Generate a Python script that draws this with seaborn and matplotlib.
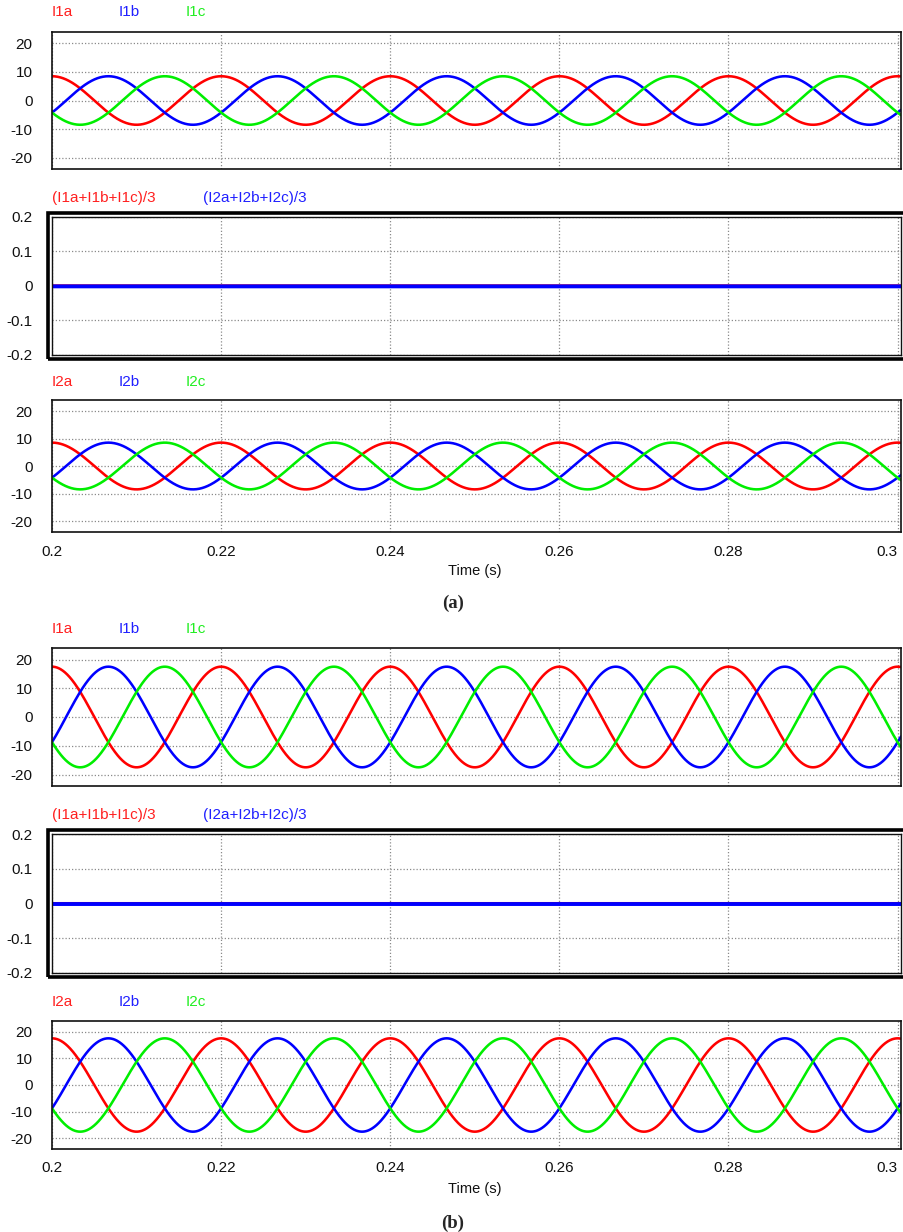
import numpy as np
import pandas as pd
import matplotlib
matplotlib.use("Agg")
import matplotlib.pyplot as plt
import seaborn as sns
from matplotlib.patches import Rectangle

# ---------------- data ----------------
time_start, time_end = 0.2, 0.3
frequency_hz = 50.0                       # period 0.02 s
amplitude_case_a = 8.5                    # peak current, case (a)
amplitude_case_b = 17.5                   # peak current, case (b)
phase_names_1 = ["I1a", "I1b", "I1c"]
phase_names_2 = ["I2a", "I2b", "I2c"]
phase_angles_deg = [0.0, -120.0, 120.0]   # a peaks at 0.20, b at 0.2067, c at 0.2133
zero_seq_names = ["(I1a+I1b+I1c)/3", "(I2a+I2b+I2c)/3"]
zero_seq_values = [0.0, 0.0]
x_ticks = [0.2, 0.22, 0.24, 0.26, 0.28, 0.3]
x_tick_labels = ["0.2", "0.22", "0.24", "0.26", "0.28", "0.3"]
current_ticks = [-20, -10, 0, 10, 20]
current_tick_labels = ["-20", "-10", "0", "10", "20"]
zero_ticks = [-0.2, -0.1, 0.0, 0.1, 0.2]
zero_tick_labels = ["-0.2", "-0.1", "0", "0.1", "0.2"]
case_labels = ["(a)", "(b)"]

phase_colors = ["#ff0000", "#0000ff", "#00ee00"]
label_colors = ["#ff2020", "#2020ff", "#22ee22"]

sns.set_style("white")
plt.rcParams["font.family"] = ["Liberation Sans", "DejaVu Sans"]

W, H = 904, 1232
fig = plt.figure(figsize=(W / 100, H / 100), dpi=100)

LEFT, RIGHT = 52, 901
x_max = 0.3004
t = np.linspace(time_start, x_max, 1500)
FS = 11


def make_ax(top, bottom):
    return fig.add_axes([LEFT / W, 1 - bottom / H, (RIGHT - LEFT) / W, (bottom - top) / H])


def style_ax(ax, yticks, ylabels, ylim, show_x):
    ax.set_xlim(time_start, x_max)
    ax.set_ylim(*ylim)
    ax.set_xticks(x_ticks)
    ax.set_yticks(yticks)
    ax.set_yticklabels(ylabels)
    if show_x:
        ax.set_xticklabels(x_tick_labels)
        ax.get_xticklabels()[-1].set_ha("right")
    else:
        ax.set_xticklabels([])
    ax.tick_params(axis="y", length=0, pad=14, labelsize=FS, colors="#111111")
    ax.tick_params(axis="x", length=0, pad=9, labelsize=FS, colors="#111111")
    ax.grid(True, color="#8a8a8a", linestyle=(0, (1, 1.6)), linewidth=0.9)
    ax.set_axisbelow(True)
    for s in ax.spines.values():
        s.set_color("#111111")
        s.set_linewidth(1.2)
    ax.set_xlabel("")
    ax.set_ylabel("")


def phase_panel(ax, names, amp, show_x):
    rows = []
    for name, ang in zip(names, phase_angles_deg):
        y = amp * np.cos(2 * np.pi * frequency_hz * (t - time_start) + np.deg2rad(ang))
        rows.append(pd.DataFrame({"t": t, "i": y, "phase": name}))
    df = pd.concat(rows, ignore_index=True)
    sns.lineplot(data=df, x="t", y="i", hue="phase", palette=dict(zip(names, phase_colors)),
                 estimator=None, linewidth=1.85, legend=False, ax=ax)
    style_ax(ax, current_ticks, current_tick_labels, (-24, 24), show_x)


def zero_panel(ax):
    df = pd.DataFrame({"t": np.concatenate([t, t]),
                       "i": np.concatenate([np.full_like(t, zero_seq_values[0]),
                                            np.full_like(t, zero_seq_values[1])]),
                       "s": [zero_seq_names[0]] * len(t) + [zero_seq_names[1]] * len(t)})
    sns.lineplot(data=df[df.s == zero_seq_names[0]], x="t", y="i", color="#ff0000",
                 estimator=None, linewidth=2.2, legend=False, ax=ax)
    df2 = df[df.s == zero_seq_names[1]].copy()
    df2["i"] = df2["i"] - 0.0015
    sns.lineplot(data=df2, x="t", y="i", color="#0000ff",
                 estimator=None, linewidth=2.8, legend=False, ax=ax)
    style_ax(ax, zero_ticks, zero_tick_labels, (-0.2, 0.2), False)
    for s in ax.spines.values():
        s.set_linewidth(1.0)
    bb = ax.get_position()
    dx = 4.0 / (bb.width * W)
    dy = 4.0 / (bb.height * H)
    ax.add_patch(Rectangle((-dx, -dy), 1 + 2 * dx, 1 + 2 * dy, transform=ax.transAxes,
                           fill=False, edgecolor="black", linewidth=2.6, clip_on=False))


def labels(y_px, texts, xs_px):
    for txt, xp, c in zip(texts, xs_px, label_colors):
        fig.text(xp / W, 1 - y_px / H, txt, color=c, fontsize=FS, ha="left", va="center")


layout = [
    dict(panels=[(32, 169), (216.7, 355), (400, 532)], labels=[12, 198, 382],
         amp=amplitude_case_a, time_y=571, case_y=603),
    dict(panels=[(648, 786), (834, 973), (1021, 1149)], labels=[629, 815, 1002],
         amp=amplitude_case_b, time_y=1189, case_y=1223),
]

for k, g in enumerate(layout):
    (t1, b1), (t2, b2), (t3, b3) = g["panels"]
    ax1 = make_ax(t1, b1)
    phase_panel(ax1, phase_names_1, g["amp"], False)
    ax2 = make_ax(t2, b2)
    zero_panel(ax2)
    ax3 = make_ax(t3, b3)
    phase_panel(ax3, phase_names_2, g["amp"], True)

    labels(g["labels"][0], phase_names_1, [52, 119, 186])
    labels(g["labels"][1], zero_seq_names, [52, 203])
    labels(g["labels"][2], phase_names_2, [52, 119, 186])

    fig.text(475 / W, 1 - g["time_y"] / H, "Time (s)", fontsize=10.5, ha="center", va="center",
             color="#111111")
    fig.text(453 / W, 1 - g["case_y"] / H, case_labels[k], fontsize=13.5, fontweight="bold",
             family=["Liberation Serif", "DejaVu Serif"], ha="center", va="center")

fig.savefig("out.png", dpi=100)
